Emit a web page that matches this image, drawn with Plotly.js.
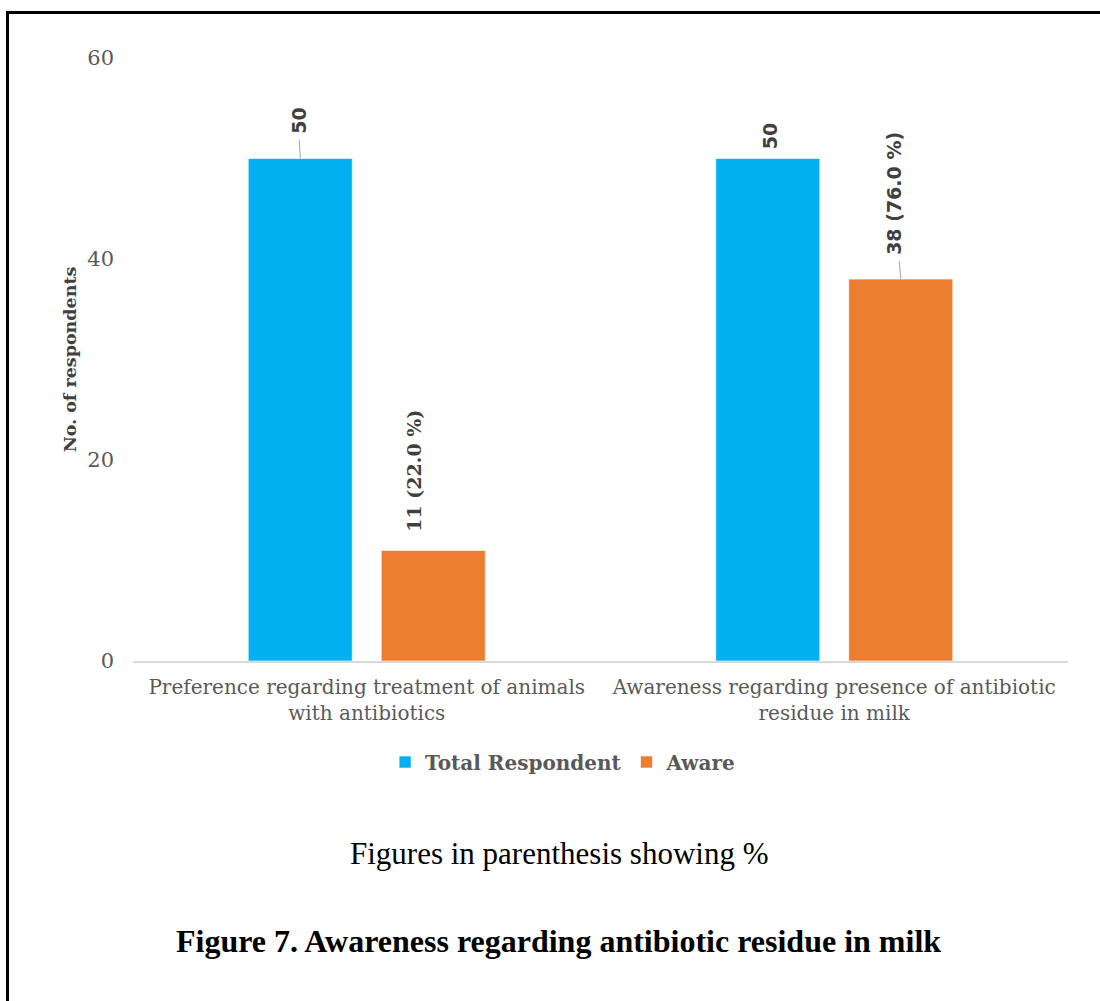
<!DOCTYPE html>
<html>
<head>
<meta charset="utf-8">
<script src="https://cdn.plot.ly/plotly-3.0.1.min.js"></script>
<style>
  html, body { margin: 0; padding: 0; background: #fff; }
  #wrap { position: relative; width: 1100px; height: 1001px; overflow: hidden; }
  #chart { position: absolute; left: 0; top: 0; width: 1100px; height: 1001px; }
  #frame { position: absolute; left: 6px; top: 11px; width: 1200px; height: 1200px;
           border-left: 3px solid #000; border-top: 3px solid #000; pointer-events: none; }
</style>
</head>
<body>
<div id="wrap">
  <div id="chart"></div>
  <div id="frame"></div>
</div>
<script>
// Survey questions (x categories)
const categories = [
  "Preference regarding treatment of animals<br>with antibiotics",
  "Awareness regarding presence of antibiotic<br>residue in milk"
];
const seriesNames = ["Total Respondent", "Aware"];
const totalRespondent = [50, 50];
const aware = [11, 38];
const awarePct = [22.0, 76.0];

const yTicks = [0, 20, 40, 60];

const colors = ["#00B0F0", "#ED7D31"];
const serif = "'DejaVu Serif', serif";
const sans = "'DejaVu Sans', sans-serif";

const bargap = 0.431;
const bargroupgap = 0.218;
const slot = (1 - bargap) / 2;

const traces = [
  {
    type: "bar", name: seriesNames[0], x: categories, y: totalRespondent,
    marker: { color: colors[0], line: { color: "rgba(255,255,255,0.6)", width: 1 } },
    hoverinfo: "skip"
  },
  {
    type: "bar", name: seriesNames[1], x: categories, y: aware,
    marker: { color: colors[1], line: { color: "rgba(255,255,255,0.6)", width: 1 } },
    hoverinfo: "skip"
  }
];

// Data labels: [category index, series index, text, ax, ay, leader visible, font family]
const labelSpecs = [
  [0, 0, String(totalRespondent[0]), -2, -38, true, sans],
  [1, 0, String(totalRespondent[1]), 2, -22, false, sans],
  [0, 1, aware[0] + " (" + awarePct[0].toFixed(1) + " %)", -19, -80, false, serif],
  [1, 1, aware[1] + " (" + awarePct[1].toFixed(1) + " %)", -7, -86, true, sans]
];
const values = [totalRespondent, aware];

const annotations = labelSpecs.map(([ci, si, txt, ax, ay, leader, fam]) => ({
  x: ci + (si === 0 ? -slot / 2 : slot / 2),
  y: values[si][ci],
  xref: "x", yref: "y",
  text: "<b>" + txt + "</b>",
  textangle: -90,
  font: { family: fam, size: 19, color: "#404040" },
  showarrow: true, arrowhead: 0, arrowwidth: 1,
  arrowcolor: leader ? "#a6a6a6" : "rgba(0,0,0,0)",
  standoff: 0, borderpad: 6,
  ax: ax, ay: ay
}));

annotations.push(
  {
    xref: "paper", yref: "paper", x: 0.4556, y: -0.320,
    xanchor: "center", yanchor: "middle",
    text: "Figures in parenthesis showing %", showarrow: false,
    font: { family: "'Liberation Serif', serif", size: 31, color: "#000" }
  },
  {
    xref: "paper", yref: "paper", x: 0.4556, y: -0.465,
    xanchor: "center", yanchor: "middle",
    text: "<b>Figure 7. Awareness regarding antibiotic residue in milk</b>", showarrow: false,
    font: { family: "'Liberation Serif', serif", size: 32, color: "#000" }
  }
);

const layout = {
  width: 1100, height: 1001,
  margin: { l: 133, r: 32, t: 58, b: 340 },
  paper_bgcolor: "#fff", plot_bgcolor: "#fff",
  barmode: "group", bargap: bargap, bargroupgap: bargroupgap,
  showlegend: true,
  legend: {
    orientation: "h", x: 0.46, xanchor: "center", y: -0.1675, yanchor: "middle",
    font: { family: serif, size: 20, color: "#595959", weight: "bold" },
    itemwidth: 30
  },
  xaxis: {
    type: "category",
    tickfont: { family: serif, size: 20, color: "#595959" },
    showline: true, linecolor: "#d9d9d9", linewidth: 2,
    ticks: "", showgrid: false, zeroline: false,
    ticklabelstandoff: 7
  },
  yaxis: {
    range: [0, 60], tickvals: yTicks,
    tickfont: { family: serif, size: 21, color: "#595959" },
    showgrid: false, zeroline: false, showline: false, ticks: "",
    ticklabelstandoff: 18,
    title: {
      text: "<b>No. of respondents</b>",
      font: { family: serif, size: 17.5, color: "#404040" },
      standoff: 6
    }
  },
  annotations: annotations
};

Plotly.newPlot("chart", traces, layout, { staticPlot: true });
</script>
</body>
</html>
